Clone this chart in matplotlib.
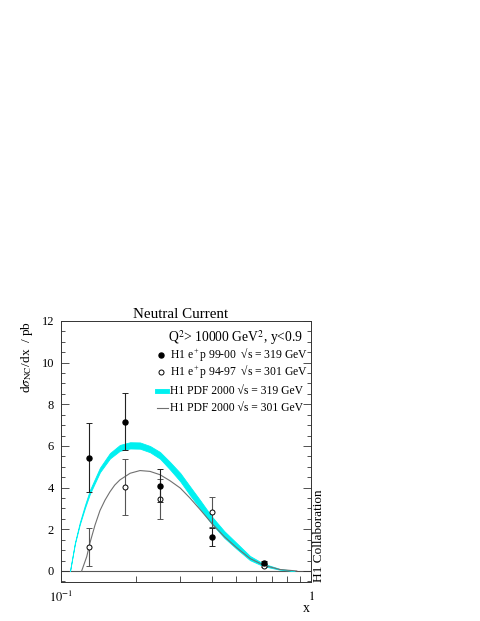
import numpy as np
import matplotlib.pyplot as plt
from matplotlib.ticker import FixedLocator, NullFormatter, MultipleLocator

plt.rcParams['font.family'] = ['Liberation Serif', 'DejaVu Serif']
plt.rcParams['mathtext.fontset'] = 'stix'

# H1 data points (x, dsigma/dx in pb)
x_pts = [0.13, 0.18, 0.25, 0.40, 0.65]
y_9900 = [5.44, 7.17, 4.10, 1.62, 0.40]
err_9900 = [1.64, 1.36, 0.78, 0.42, 0.08]
y_9497 = [1.15, 4.05, 3.44, 2.83, 0.26]
err_9497 = [0.93, 1.34, 0.96, 0.74, 0.06]

# H1 PDF 2000 band, sqrt(s) = 319 GeV
x_band = [0.1087, 0.1137, 0.119, 0.1247, 0.1306, 0.1432, 0.157, 0.172, 0.189,
          0.207, 0.227, 0.249, 0.273, 0.300, 0.328, 0.360, 0.400, 0.450,
          0.504, 0.570, 0.645, 0.750, 0.860]
band_hi = [0.00, 1.36, 2.34, 3.16, 3.89, 4.96, 5.66, 6.05, 6.18,
           6.17, 6.00, 5.71, 5.23, 4.70, 4.06, 3.40, 2.63, 1.91,
           1.34, 0.72, 0.35, 0.10, 0.00]
band_lo = [0.00, 1.30, 2.24, 3.02, 3.71, 4.74, 5.40, 5.77, 5.88,
           5.87, 5.70, 5.39, 4.87, 4.30, 3.64, 3.00, 2.27, 1.59,
           1.06, 0.52, 0.23, 0.06, 0.00]

# H1 PDF 2000 curve, sqrt(s) = 301 GeV
x_line = [0.121, 0.1268, 0.1306, 0.1368, 0.1432, 0.150, 0.157, 0.164, 0.172,
          0.189, 0.207, 0.227, 0.249, 0.273, 0.300, 0.328, 0.360, 0.400,
          0.450, 0.504, 0.570, 0.645, 0.750, 0.877]
y_line = [0.00, 0.69, 1.35, 2.20, 2.90, 3.40, 3.80, 4.12, 4.37,
          4.69, 4.82, 4.78, 4.62, 4.33, 3.98, 3.50, 2.95, 2.30,
          1.65, 1.12, 0.60, 0.28, 0.07, 0.00]

fig = plt.figure(figsize=(4.8, 6.21), dpi=100)
ax = fig.add_axes([0.127, 0.0628, 0.521, 0.4203])

ax.axhline(0, color='#555555', lw=0.8, zorder=1)

# theory curves
ax.fill_between(x_band, band_lo, band_hi, color='#00F0F0', lw=0.6, edgecolor='#00F0F0', zorder=2)
ax.plot(x_line, y_line, color='#707070', lw=0.8, zorder=3)

# data
ax.errorbar(x_pts, y_9497, yerr=err_9497, fmt='o', ms=3.6, mfc='white', mec='black',
            mew=0.7, ecolor='#555555', elinewidth=0.8, capsize=2, capthick=0.7, zorder=4)
ax.errorbar(x_pts, y_9900, yerr=err_9900, fmt='o', ms=3.6, color='black',
            ecolor='#222222', elinewidth=0.8, capsize=2, capthick=0.7, zorder=5)

ax.set_xscale('log')
ax.set_xlim(0.1, 1)
ax.set_ylim(-0.53, 12)

ax.xaxis.set_major_locator(FixedLocator([0.1, 1]))
ax.xaxis.set_minor_locator(FixedLocator([0.2, 0.3, 0.4, 0.5, 0.6, 0.7, 0.8, 0.9]))
ax.xaxis.set_minor_formatter(NullFormatter())
ax.set_xticklabels(['$10^{-1}$', '$1$'])
ax.yaxis.set_major_locator(MultipleLocator(2))
ax.yaxis.set_minor_locator(MultipleLocator(0.5))

ax.tick_params(which='both', direction='in', top=False, right=True, width=0.6,
               color='#333333', labelsize=9)
ax.tick_params(which='major', length=6)
ax.tick_params(which='minor', length=3)
ax.tick_params(axis='x', which='minor', length=4)
ax.tick_params(axis='x', pad=6)
ax.tick_params(axis='y', pad=5)
for sp in ax.spines.values():
    sp.set_linewidth(0.7)
    sp.set_color('#333333')

ax.set_title('Neutral Current', fontsize=10.8, pad=1, x=0.48)
ax.set_ylabel('d$\\sigma_{\\rm NC}$/dx  / pb', fontsize=9.5, loc='top')
ax.yaxis.set_label_coords(-0.104, 1.0)
ax.set_xlabel('x', fontsize=10, loc='right')
ax.xaxis.set_label_coords(0.995, -0.075)

ax.text(1.033, 0.0, 'H1 Collaboration', transform=ax.transAxes, rotation=90,
        ha='center', va='bottom', fontsize=9.5)

# legend drawn by hand
ax.text(0.427, 0.935, 'Q$^2$> 10000 GeV$^2$, y<0.9', transform=ax.transAxes,
        va='center', fontsize=9.8)
ax.plot([0.399], [0.870], 'o', ms=3.6, color='black', transform=ax.transAxes)
ax.plot([0.399], [0.805], 'o', ms=3.6, mfc='white', mec='black', mew=0.7,
        transform=ax.transAxes)
ax.plot([0.383, 0.423], [0.732, 0.732], color='#00F0F0', lw=3.5, transform=ax.transAxes)
ax.plot([0.383, 0.428], [0.667, 0.667], color='#707070', lw=0.8, transform=ax.transAxes)
labels = ['H1 e$\\mathregular{^+}$p 99-00 \u2009\u221as = 319 GeV',
          'H1 e$\\mathregular{^+}$p 94-97 \u2009\u221as = 301 GeV',
          'H1 PDF 2000 \u221as = 319 GeV',
          'H1 PDF 2000 \u221as = 301 GeV']
for lab, yy in zip(labels, [0.870, 0.805, 0.732, 0.667]):
    ax.text(0.436, yy, lab, transform=ax.transAxes, va='center', fontsize=8.4)

fig.savefig('out.png', dpi=100)
